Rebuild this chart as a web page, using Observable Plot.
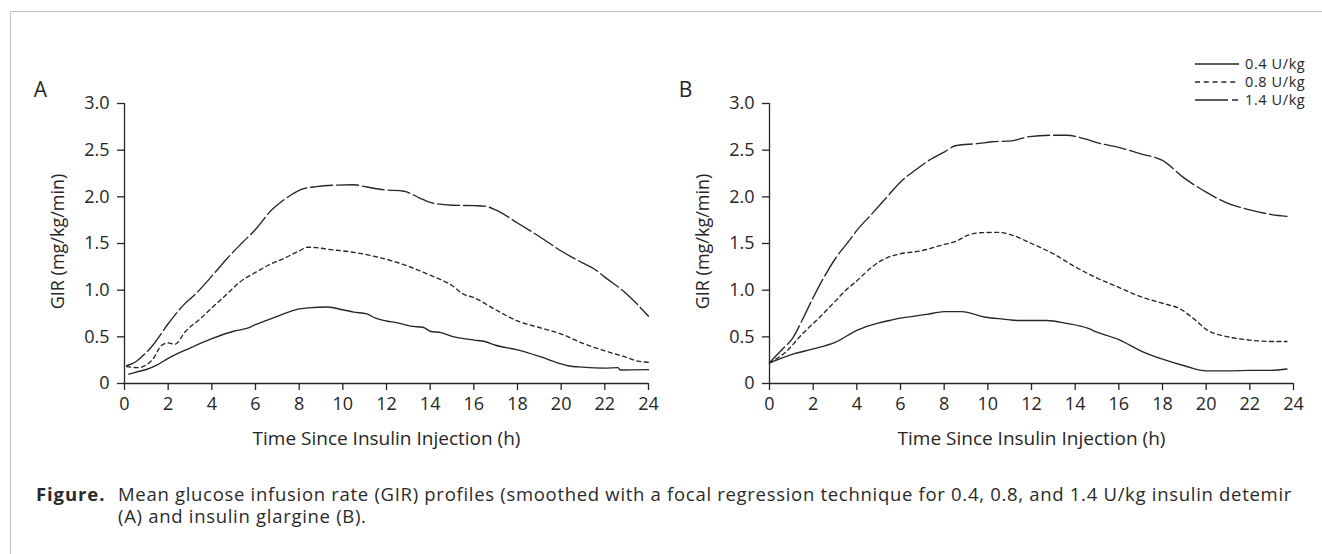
<!DOCTYPE html>
<html>
<head>
<meta charset="utf-8">
<script src="https://cdn.jsdelivr.net/npm/d3@7"></script>
<script src="https://cdn.jsdelivr.net/npm/@observablehq/plot@0.6"></script>
<style>
  html, body { margin: 0; padding: 0; background: #fff; }
  body { width: 1322px; height: 554px; position: relative; overflow: hidden; font-family: "Open Sans", sans-serif; color: #2a2a2a; }
  #frame { position: absolute; left: 10px; top: 11px; width: 1400px; height: 600px; border-left: 1.5px solid #c4c4c4; border-top: 1.5px solid #c4c4c4; }
  #panelA { position: absolute; left: 0px; top: 60px; }
  #panelB { position: absolute; left: 645px; top: 60px; }
  #legend { position: absolute; left: 1180px; top: 50px; }
  #caption { position: absolute; left: 36px; top: 483px; font-size: 18.5px; line-height: 22px; white-space: nowrap; letter-spacing: 0.7px; }
  #caption .lab { position: absolute; left: 0; top: 0; font-weight: 700; letter-spacing: 0.9px; }
  #caption .txt { position: absolute; left: 82px; top: 0; }
</style>
</head>
<body>
<div id="frame"></div>
<div id="panelA"></div>
<div id="panelB"></div>
<div id="legend"></div>
<div id="caption"><span class="lab">Figure.</span><span class="txt">Mean glucose infusion rate (GIR) profiles (smoothed with a focal regression technique for 0.4, 0.8, and 1.4 U/kg insulin detemir<br>(A) and insulin glargine (B).</span></div>
<script>
// ---- data ----
const doses = ["0.4 U/kg", "0.8 U/kg", "1.4 U/kg"];
const xTicks = [0, 2, 4, 6, 8, 10, 12, 14, 16, 18, 20, 22, 24];
const yTicks = [0, 0.5, 1.0, 1.5, 2.0, 2.5, 3.0];
const yTickLabels = ["0", "0.5", "1.0", "1.5", "2.0", "2.5", "3.0"];
const xLabel = "Time Since Insulin Injection (h)";
const yLabel = "GIR (mg/kg/min)";

// Panel A: insulin detemir  [hours, GIR]
const detemir04 = [[0.2,0.10],[0.5,0.12],[1,0.15],[1.5,0.20],[2,0.27],[3,0.38],[4,0.48],[5,0.56],[5.6,0.59],[6,0.63],[7,0.72],[8,0.80],[8.4,0.81],[9.3,0.82],[10,0.79],[10.5,0.765],[11.1,0.745],[11.5,0.70],[12,0.67],[12.5,0.65],[13.1,0.615],[13.7,0.60],[14,0.56],[14.5,0.545],[15,0.505],[16,0.465],[16.5,0.45],[17,0.41],[18,0.36],[19,0.29],[20,0.21],[20.3,0.19],[21,0.175],[22,0.165],[22.6,0.17],[22.7,0.145],[24,0.148]];
const detemir08 = [[0.1,0.18],[0.6,0.17],[1,0.20],[1.3,0.26],[1.7,0.41],[2,0.435],[2.3,0.42],[2.8,0.56],[3.5,0.70],[4,0.81],[4.7,0.96],[5.3,1.09],[6,1.19],[6.7,1.28],[7.3,1.34],[8,1.42],[8.4,1.46],[8.8,1.455],[9.6,1.43],[10.2,1.415],[11.1,1.38],[12,1.33],[12.9,1.265],[14,1.16],[15,1.05],[15.5,0.96],[16,0.92],[17,0.79],[18,0.67],[19,0.60],[20,0.53],[21,0.43],[22,0.35],[23,0.28],[23.5,0.24],[24,0.228]];
const detemir14 = [[0.1,0.19],[0.5,0.23],[0.9,0.31],[1.3,0.41],[2,0.64],[2.7,0.84],[3.3,0.97],[4,1.15],[4.7,1.34],[5.4,1.51],[6,1.65],[6.7,1.85],[7.2,1.95],[7.7,2.03],[8.1,2.08],[8.8,2.11],[9.6,2.125],[10.5,2.13],[11.1,2.105],[11.9,2.075],[12.8,2.06],[13.5,1.99],[14,1.94],[15,1.91],[16,1.905],[16.5,1.90],[17,1.86],[18,1.72],[19,1.575],[20,1.42],[21,1.29],[21.5,1.23],[22,1.14],[23,0.96],[24,0.72]];

// Panel B: insulin glargine  [hours, GIR]
const glargine04 = [[0,0.22],[1,0.31],[2,0.37],[3,0.44],[4,0.57],[5,0.65],[5.5,0.675],[6,0.70],[7.2,0.74],[8,0.77],[8.8,0.77],[9.9,0.71],[10.7,0.69],[11.4,0.675],[12.7,0.675],[13.6,0.645],[14.6,0.59],[15,0.55],[16,0.47],[17,0.35],[18,0.26],[19,0.19],[20,0.135],[21,0.135],[22,0.14],[23,0.14],[23.7,0.155]];
const glargine08 = [[0,0.22],[0.15,0.24],[0.8,0.35],[1.5,0.53],[2.3,0.71],[3,0.88],[3.5,1.0],[4,1.10],[4.7,1.25],[5.3,1.34],[6,1.39],[6.9,1.42],[8,1.49],[8.5,1.52],[9.1,1.59],[9.6,1.615],[10.5,1.62],[11.1,1.59],[12,1.50],[13,1.39],[14,1.25],[15,1.13],[16,1.03],[17,0.93],[18,0.86],[18.8,0.80],[19.5,0.68],[20,0.58],[21,0.50],[22,0.465],[23,0.45],[23.7,0.45]];
const glargine14 = [[0,0.22],[0.15,0.26],[0.6,0.37],[1.07,0.49],[1.5,0.68],[2,0.92],[2.45,1.12],[3.05,1.35],[3.65,1.53],[4,1.64],[4.7,1.82],[5.35,1.99],[6,2.16],[6.7,2.29],[7.3,2.39],[8,2.48],[8.55,2.55],[9.5,2.57],[10.2,2.59],[11.1,2.60],[11.9,2.645],[13,2.66],[13.6,2.66],[14.6,2.61],[15,2.58],[16,2.53],[17,2.46],[18,2.39],[19,2.2],[20,2.05],[21,1.93],[22,1.86],[23,1.81],[23.7,1.79]];

// ---- styling ----
const ink = "#262626";
const dashes = [null, "4,3.5", "22,4"];
const legendDashes = [null, "5,3.8", "33,4,6,40"];

function panel(series, letter) {
  const lines = series.map((s, i) => Plot.line(s, {
    x: d => d[0], y: d => d[1], stroke: ink, strokeWidth: 1.35,
    strokeDasharray: dashes[i] ?? undefined, curve: "monotone-x"
  }));
  return Plot.plot({
    width: 660, height: 400,
    marginLeft: 124, marginRight: 12, marginTop: 43, marginBottom: 77,
    x: {domain: [0, 24]},
    y: {domain: [0, 3]},
    style: {fontFamily: "'Open Sans', sans-serif", fontSize: "18px", color: ink, background: "transparent", overflow: "visible"},
    marks: [
      Plot.axisX({ticks: xTicks, tickSize: 7, tickPadding: 7, label: null, stroke: ink, strokeWidth: 1.3, fontSize: 18}),
      Plot.axisY({ticks: yTicks, tickSize: 7, tickPadding: 8, label: null, stroke: ink, strokeWidth: 1.3, fontSize: 18,
                  tickFormat: d => yTickLabels[yTicks.indexOf(d)]}),
      Plot.ruleX([0], {stroke: ink, strokeWidth: 1.3}),
      Plot.ruleY([0], {stroke: ink, strokeWidth: 1.3}),
      ...lines,
      Plot.text([xLabel], {text: d => d, frameAnchor: "bottom", lineAnchor: "middle", textAnchor: "middle", dy: 55, fontSize: 19}),
      Plot.text([yLabel], {text: d => d, frameAnchor: "left", textAnchor: "middle", lineAnchor: "middle", dx: -66, dy: -2, rotate: -90, fontSize: 18}),
      Plot.text([letter], {text: d => d, frameAnchor: "top-left", textAnchor: "middle", lineAnchor: "middle", dx: -84, dy: -13, fontSize: 21})
    ]
  });
}

document.getElementById("panelA").append(panel([detemir04, detemir08, detemir14], "A"));
document.getElementById("panelB").append(panel([glargine04, glargine08, glargine14], "B"));

// ---- legend ----
const lg = d3.select("#legend").append("svg").attr("width", 142).attr("height", 62)
  .style("font-family", "'Open Sans', sans-serif").style("font-size", "14.5px").style("letter-spacing", "0.6px");
const row = lg.selectAll("g").data(doses).join("g").attr("transform", (d, i) => `translate(0,${14 + i * 18})`);
row.append("line").attr("x1", 15).attr("x2", 59).attr("y1", 0).attr("y2", 0)
  .attr("stroke", ink).attr("stroke-width", 1.3)
  .attr("stroke-dasharray", (d, i) => legendDashes[i]);
row.append("text").attr("x", 65).attr("dy", "0.35em").attr("fill", ink).text(d => d);
</script>
</body>
</html>
